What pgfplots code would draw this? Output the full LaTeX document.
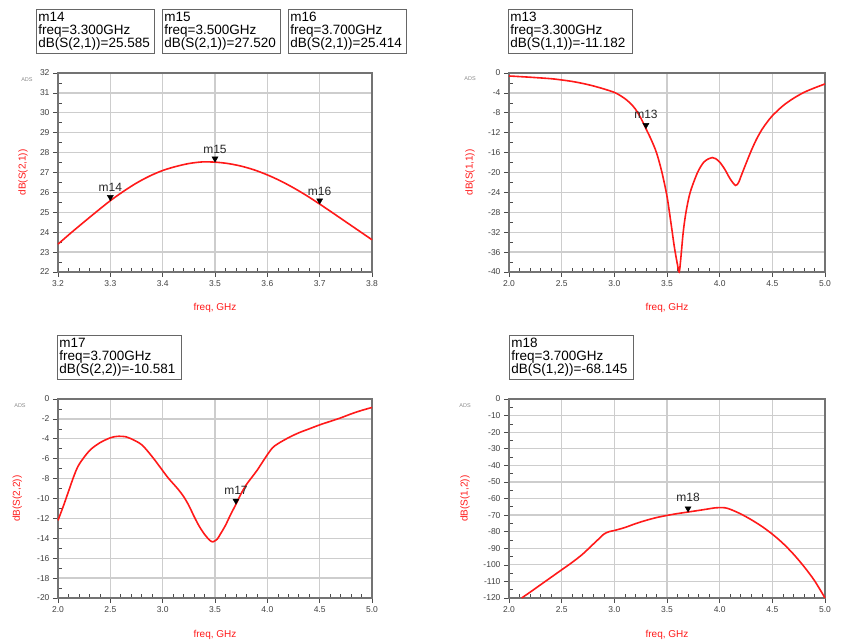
\documentclass[border=0pt]{standalone}
\usepackage{fontspec}
\setmainfont{Liberation Sans}
\usepackage{pgfplots}
\pgfplotsset{compat=1.18}
\definecolor{adsred}{RGB}{255,25,25}
\definecolor{gridgray}{RGB}{205,205,205}
\definecolor{framegray}{RGB}{115,115,115}
\pgfplotsset{
  adsaxis/.style={
    scale only axis, anchor=south west, height=199pt,
    axis line style={framegray, line width=1.1pt},
    grid=major, major grid style={gridgray, line width=1.3pt},
    tick pos=left,
    tick align=outside, major tick length=5pt, minor tick length=4pt,
    tick style={black!70, line width=0.6pt},
    minor x tick style={yshift=4pt}, minor y tick style={xshift=4pt},
    ticklabel style={font=\fontsize{8.5}{9}\selectfont, text=black!75},
    /pgf/number format/assume math mode=true,
    xlabel={freq, GHz},
    xlabel style={font=\fontsize{10}{11}\selectfont, text=adsred, at={(axis description cs:0.5,-0.18)}, anchor=center},
    clip=false,
  },
  xfreq/.style={xmin=2, xmax=5, xtick={2,2.5,...,5}, minor x tick num=4,
    xticklabel style={/pgf/number format/.cd, fixed, fixed zerofill, precision=1}},
  curve/.style={adsred, line width=1.6pt, smooth},
  mk/.style={only marks, mark=triangle*, mark size=3.5pt, black, mark options={yshift=3.5pt, rotate=180}},
}
\tikzset{box/.style={draw=black!60, line width=0.9pt, fill=white, anchor=north west, inner sep=2pt,
    text width=114pt, minimum height=44pt, align=left, font=\fontsize{13.5}{13}\selectfont},
  mlab/.style={font=\fontsize{12}{12}\selectfont, text=black!85},
  ads/.style={font=\fontsize{5.5}{6}\selectfont, text=black!45}}
\begin{document}
\begin{tikzpicture}
\path[use as bounding box] (0,0) rectangle (841pt,640pt);
% ---------------- top left: S21
\begin{axis}[adsaxis, at={(58pt,368pt)}, width=314pt,
  xmin=3.2, xmax=3.8, xtick={3.2,3.3,...,3.8}, minor x tick num=4,
  xticklabel style={/pgf/number format/.cd, fixed, fixed zerofill, precision=1},
  ymin=22, ymax=32, ytick={22,23,...,32}, minor y tick num=1,
  ylabel={dB(S(2,1))},
  ylabel style={font=\fontsize{10}{11}\selectfont, text=adsred, at={(axis description cs:-0.111,0.5)}, anchor=center}]
\addplot[curve] coordinates {
(3.200,23.40) (3.225,23.97) (3.250,24.52) (3.275,25.06) (3.300,25.585)
(3.325,26.05) (3.350,26.47) (3.375,26.82) (3.400,27.10) (3.425,27.30)
(3.450,27.45) (3.475,27.53) (3.500,27.52) (3.525,27.45) (3.550,27.32)
(3.575,27.13) (3.600,26.88) (3.625,26.58) (3.650,26.23) (3.675,25.84)
(3.700,25.414) (3.725,24.97) (3.750,24.52) (3.775,24.07) (3.800,23.62)};
\addplot[mk] coordinates {(3.3,25.585) (3.5,27.52) (3.7,25.414)};
\node[mlab] at (axis cs:3.3,25.585) [yshift=13pt] {m14};
\node[mlab] at (axis cs:3.5,27.52) [yshift=13pt] {m15};
\node[mlab] at (axis cs:3.7,25.414) [yshift=13pt] {m16};
\node[ads] at (axis description cs:-0.099,0.965) {ADS};
\end{axis}
% ---------------- top right: S11
\begin{axis}[adsaxis, xfreq, at={(509pt,368pt)}, width=316pt,
  ymin=-40, ymax=0, ytick={-40,-36,...,0}, minor y tick num=1,
  ylabel={dB(S(1,1))},
  ylabel style={font=\fontsize{10}{11}\selectfont, text=adsred, at={(axis description cs:-0.123,0.5)}, anchor=center}]
\addplot[curve] coordinates {
(2.0,-0.6) (2.2,-0.85) (2.4,-1.15) (2.5,-1.4) (2.6,-1.7) (2.7,-2.1) (2.8,-2.6)
(2.9,-3.2) (3.0,-3.9) (3.05,-4.45) (3.1,-5.15) (3.15,-6.05) (3.2,-7.25) (3.25,-9.0)
(3.3,-11.18) (3.35,-13.4) (3.4,-16.0) (3.45,-19.8) (3.5,-24.8) (3.54,-30.5)
(3.57,-35.0) (3.6,-38.6) (3.616,-40.0) (3.63,-37.5) (3.654,-32.0) (3.68,-28.0)
(3.72,-24.0) (3.79,-20.0) (3.85,-17.9) (3.9,-17.2) (3.93,-17.0) (3.96,-17.2)
(4.0,-17.9) (4.05,-19.4) (4.1,-21.3) (4.15,-22.6) (4.18,-22.0) (4.2,-20.9)
(4.25,-18.2) (4.3,-15.6) (4.35,-13.3) (4.4,-11.4) (4.45,-9.9) (4.5,-8.6)
(4.6,-6.6) (4.7,-5.1) (4.8,-3.9) (4.9,-3.0) (5.0,-2.2)};
\addplot[mk] coordinates {(3.3,-11.182)};
\node[mlab] at (axis cs:3.3,-11.182) [yshift=14pt] {m13};
\node[ads] at (axis description cs:-0.123,0.97) {ADS};
\end{axis}
% ---------------- bottom left: S22
\begin{axis}[adsaxis, xfreq, at={(58pt,42pt)}, width=314pt,
  ymin=-20, ymax=0, ytick={-20,-18,...,0}, minor y tick num=1,
  ylabel={dB(S(2,2))},
  xlabel style={at={(axis description cs:0.5,-0.186)}},
  ylabel style={font=\fontsize{10}{11}\selectfont, text=adsred, at={(axis description cs:-0.13,0.5)}, anchor=center}]
\addplot[curve] coordinates {
(2.0,-12.2) (2.05,-10.8) (2.1,-9.3) (2.15,-7.8) (2.2,-6.6) (2.3,-5.2) (2.4,-4.4)
(2.5,-3.9) (2.57,-3.75) (2.65,-3.8) (2.7,-4.0) (2.8,-4.6) (2.9,-5.8) (3.0,-7.2)
(3.05,-7.9) (3.1,-8.5) (3.15,-9.1) (3.2,-9.8) (3.25,-10.7) (3.3,-11.8)
(3.35,-12.8) (3.4,-13.6) (3.45,-14.2) (3.48,-14.35) (3.52,-14.1) (3.55,-13.6)
(3.6,-12.7) (3.65,-11.6) (3.7,-10.58) (3.75,-9.5) (3.8,-8.6) (3.85,-7.9)
(3.9,-7.2) (3.95,-6.4) (4.0,-5.6) (4.05,-4.9) (4.1,-4.5) (4.2,-3.9) (4.3,-3.4)
(4.4,-3.0) (4.5,-2.6) (4.6,-2.25) (4.7,-1.9) (4.8,-1.5) (4.9,-1.15) (5.0,-0.85)};
\addplot[mk] coordinates {(3.7,-10.581)};
\node[mlab] at (axis cs:3.7,-10.581) [yshift=14pt] {m17};
\node[ads] at (axis description cs:-0.121,0.965) {ADS};
\end{axis}
% ---------------- bottom right: S12
\begin{axis}[adsaxis, xfreq, at={(509pt,42pt)}, width=316pt,
  ymin=-120, ymax=0, ytick={-120,-110,...,0}, minor y tick num=1,
  ylabel={dB(S(1,2))},
  xlabel style={at={(axis description cs:0.5,-0.186)}},
  ylabel style={font=\fontsize{10}{11}\selectfont, text=adsred, at={(axis description cs:-0.139,0.5)}, anchor=center}]
\addplot[curve] coordinates {
(2.12,-120) (2.2,-116.5) (2.3,-112) (2.4,-107.5) (2.5,-103) (2.6,-98.5)
(2.7,-93.5) (2.8,-87.5) (2.85,-84.5) (2.9,-81.5) (2.95,-80) (3.0,-79.3)
(3.1,-77.5) (3.2,-75.2) (3.3,-73.2) (3.4,-71.5) (3.5,-70.2) (3.6,-69.1)
(3.7,-68.145) (3.8,-67.2) (3.9,-66.2) (3.95,-65.7) (4.0,-65.5) (4.05,-65.6)
(4.1,-66.5) (4.2,-69.3) (4.3,-72.8) (4.4,-76.8) (4.5,-81.5) (4.6,-87.0)
(4.7,-93.5) (4.8,-101) (4.9,-109.5) (5.0,-120)};
\addplot[mk] coordinates {(3.7,-68.145)};
\node[mlab] at (axis cs:3.7,-68.145) [yshift=15pt] {m18};
\node[ads] at (axis description cs:-0.139,0.965) {ADS};
\end{axis}
% ---------------- marker readout boxes
\node[box] at (36pt,631pt) {m14\\freq=3.300GHz\\dB(S(2,1))=25.585};
\node[box] at (162pt,631pt) {m15\\freq=3.500GHz\\dB(S(2,1))=27.520};
\node[box] at (288pt,631pt) {m16\\freq=3.700GHz\\dB(S(2,1))=25.414};
\node[box, text width=120pt] at (508pt,631pt) {m13\\freq=3.300GHz\\\mbox{dB(S(1,1))=-11.182}};
\node[box, text width=120pt] at (57pt,305pt) {m17\\freq=3.700GHz\\\mbox{dB(S(2,2))=-10.581}};
\node[box, text width=120pt] at (509pt,305pt) {m18\\freq=3.700GHz\\\mbox{dB(S(1,2))=-68.145}};
\end{tikzpicture}
\end{document}
